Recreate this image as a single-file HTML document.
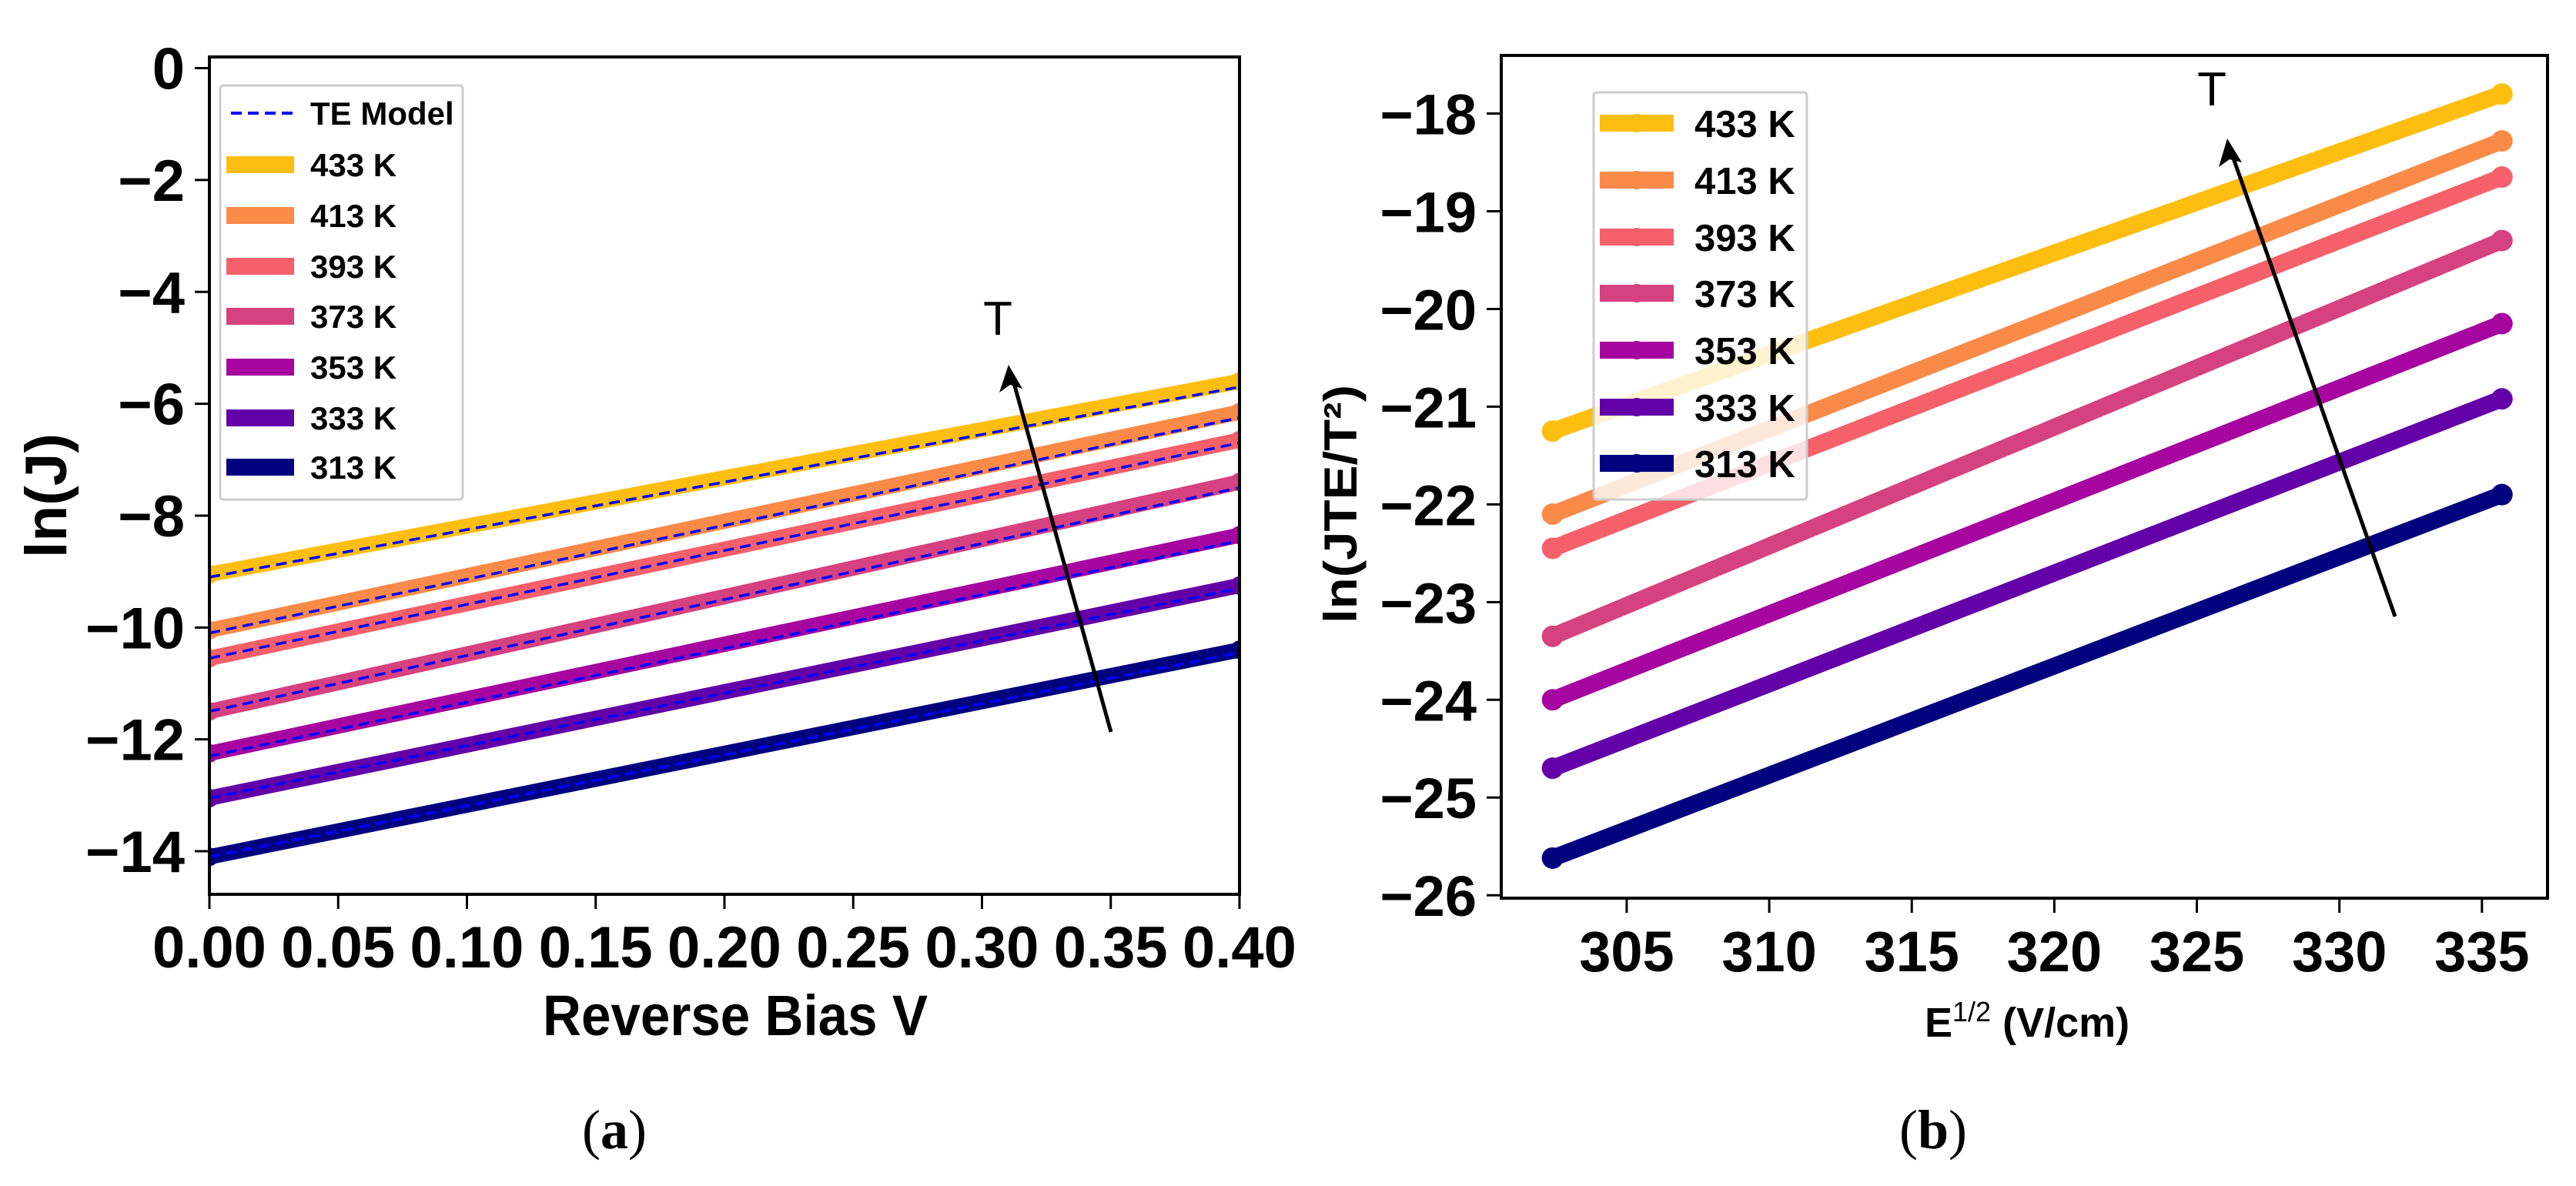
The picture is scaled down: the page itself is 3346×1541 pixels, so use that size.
<!DOCTYPE html>
<html><head><meta charset="utf-8"><style>
html,body{margin:0;padding:0;background:#fff;}
svg{display:block;font-family:"Liberation Sans",sans-serif;}
</style></head><body>
<svg id="fig" width="3346" height="1541" viewBox="0 0 3346 1541" xmlns="http://www.w3.org/2000/svg">
<g id="pa"></g>
<g id="pb"></g>
<text x="798" y="1492" font-family="Liberation Serif, serif" font-size="72" text-anchor="middle">(<tspan font-weight="bold">a</tspan>)</text>
<text x="2511" y="1492" font-family="Liberation Serif, serif" font-size="72" text-anchor="middle">(<tspan font-weight="bold">b</tspan>)</text>
</svg>
<script>
const labels = ["433 K","413 K","393 K","373 K","353 K","333 K","313 K"];
const colors = ["#FEBE10","#FA8A48","#F5606A","#D6417F","#A6069F","#6400A7","#02027F"];
// Panel a: ln(J) at V=0 and V=0.4
const aX = [0.0, 0.4];
const aStart = [-9.05,-10.05,-10.55,-11.5,-12.25,-13.05,-14.1];
const aEnd = [-5.6,-6.15,-6.65,-7.4,-8.35,-9.25,-10.4];
const teStart = [-9.1,-10.1,-10.55,-11.5,-12.3,-13.05,-14.1];
const teEnd = [-5.7,-6.25,-6.7,-7.5,-8.45,-9.3,-10.45];
const aXTicks = [0,0.05,0.10,0.15,0.20,0.25,0.30,0.35,0.40];
const aYTicks = [0,-2,-4,-6,-8,-10,-12,-14];
// Panel b
const bX = [302.4, 335.7];
const bStart = [-21.25,-22.1,-22.45,-23.35,-24.0,-24.7,-25.62];
const bEnd = [-17.8,-18.28,-18.65,-19.3,-20.15,-20.92,-21.9];
const bXTicks = [305,310,315,320,325,330,335];
const bYTicks = [-18,-19,-20,-21,-22,-23,-24,-25,-26];

const NS="http://www.w3.org/2000/svg";
function mk(p,tag,at){const e=document.createElementNS(NS,tag);for(const k in at)e.setAttribute(k,at[k]);p.appendChild(e);return e;}
function minus(v){return v<0?"\u2212"+Math.abs(v):String(v);}

// ---- Panel A ----
const pa=document.getElementById('pa');
const A={l:272,r:1610,t:74,b:1162,x0:0,x1:0.4,y0:-14.77,y1:0.2};
const ax=v=>A.l+(v-A.x0)/(A.x1-A.x0)*(A.r-A.l);
const ay=v=>A.b-(v-A.y0)/(A.y1-A.y0)*(A.b-A.t);
mk(pa,'clipPath',{id:'ca'}).appendChild(Object.assign(document.createElementNS(NS,'rect'),{}));
document.querySelector('#ca rect').setAttribute('x',A.l);document.querySelector('#ca rect').setAttribute('y',A.t);
document.querySelector('#ca rect').setAttribute('width',A.r-A.l);document.querySelector('#ca rect').setAttribute('height',A.b-A.t);
const ga=mk(pa,'g',{'clip-path':'url(#ca)'});
for(let i=labels.length-1;i>=0;i--){
  const l=mk(ga,'line',{x1:ax(aX[0]),y1:ay(aStart[i]),x2:ax(aX[1]),y2:ay(aEnd[i]),stroke:colors[i],'stroke-width':20});
  
  
  [[aX[0],aStart[i]],[aX[1],aEnd[i]]].forEach(p=>{const c=mk(ga,'circle',{cx:ax(p[0]),cy:ay(p[1]),r:12,fill:colors[i]});
    
    });
}
for(let i=0;i<labels.length;i++){
  const d=mk(ga,'line',{x1:ax(aX[0]),y1:ay(teStart[i]),x2:ax(aX[1]),y2:ay(teEnd[i]),stroke:'#0000ff','stroke-width':3.5,'stroke-dasharray':'14 8'});
  
  
}
mk(pa,'rect',{x:A.l,y:A.t,width:A.r-A.l,height:A.b-A.t,fill:'none',stroke:'#000','stroke-width':4});
aXTicks.forEach(v=>{mk(pa,'line',{x1:ax(v),x2:ax(v),y1:A.b,y2:A.b+19,stroke:'#000','stroke-width':3});
  const t=mk(pa,'text',{x:ax(v),y:1257,'font-size':76,'font-weight':'bold','text-anchor':'middle'});t.textContent=v.toFixed(2);
  
  });
aYTicks.forEach(v=>{mk(pa,'line',{x1:A.l-19,x2:A.l,y1:ay(v),y2:ay(v),stroke:'#000','stroke-width':3});
  const t=mk(pa,'text',{x:240,y:ay(v)+27,'font-size':76,'font-weight':'bold','text-anchor':'end'});t.textContent=minus(v);
  
  });
let xt=mk(pa,'text',{x:955,y:1345,'font-size':74,'font-weight':'bold','text-anchor':'middle',textLength:500,lengthAdjust:'spacingAndGlyphs'});xt.textContent='Reverse Bias V';


let yt=mk(pa,'text',{x:0,y:0,'font-size':76,'font-weight':'bold','text-anchor':'middle',transform:'translate(86,644) rotate(-90)',textLength:162,lengthAdjust:'spacingAndGlyphs'});yt.textContent='ln(J)';


// legend a
const la=mk(pa,'g',{});


mk(la,'rect',{x:286,y:111,width:315,height:538,fill:'#fff',stroke:'#ccc','stroke-width':3,rx:4});
const laY=[147,214,280,346,411,477,543,607];
mk(la,'line',{x1:300,x2:380,y1:laY[0],y2:laY[0],stroke:'#0000ff','stroke-width':4,'stroke-dasharray':'14 8'});
let tt=mk(la,'text',{x:403,y:laY[0]+15,'font-size':42,'font-weight':'bold'});tt.textContent='TE Model';
for(let i=0;i<labels.length;i++){const y=laY[i+1];
  mk(la,'line',{x1:294,x2:382,y1:y,y2:y,stroke:colors[i],'stroke-width':22});
  mk(la,'circle',{cx:338,cy:y,r:11,fill:colors[i]});
  const t=mk(la,'text',{x:403,y:y+15,'font-size':42,'font-weight':'bold'});t.textContent=labels[i];
  
  }
mk(pa,'line',{x1:1443,y1:951,x2:1316,y2:494,stroke:'#000','stroke-width':5});
mk(pa,'path',{d:'M1310,474 L1298,510 L1312,500 L1328,505 Z',fill:'#000'});
let Ta=mk(pa,'text',{x:1296,y:435,'font-size':62,'text-anchor':'middle'});Ta.textContent='T';



// ---- Panel B ----
const pb=document.getElementById('pb');
const B={l:1950,r:3309,t:72,b:1167,x0:300.6,x1:337.3,y0:-26.03,y1:-17.405};
const bx=v=>B.l+(v-B.x0)/(B.x1-B.x0)*(B.r-B.l);
const by=v=>B.b-(v-B.y0)/(B.y1-B.y0)*(B.b-B.t);
for(let i=labels.length-1;i>=0;i--){
  const l=mk(pb,'line',{x1:bx(bX[0]),y1:by(bStart[i]),x2:bx(bX[1]),y2:by(bEnd[i]),stroke:colors[i],'stroke-width':22});
  
  
  [[bX[0],bStart[i]],[bX[1],bEnd[i]]].forEach(p=>{const c=mk(pb,'circle',{cx:bx(p[0]),cy:by(p[1]),r:14,fill:colors[i]});
    
    });
}
mk(pb,'rect',{x:B.l,y:B.t,width:B.r-B.l,height:B.b-B.t,fill:'none',stroke:'#000','stroke-width':4});
bXTicks.forEach(v=>{mk(pb,'line',{x1:bx(v),x2:bx(v),y1:B.b,y2:B.b+19,stroke:'#000','stroke-width':3});
  const t=mk(pb,'text',{x:bx(v),y:1262,'font-size':74,'font-weight':'bold','text-anchor':'middle'});t.textContent=v;
  
  });
bYTicks.forEach(v=>{mk(pb,'line',{x1:B.l-19,x2:B.l,y1:by(v),y2:by(v),stroke:'#000','stroke-width':3});
  const t=mk(pb,'text',{x:1918,y:by(v)+27,'font-size':74,'font-weight':'bold','text-anchor':'end'});t.textContent=minus(v);
  
  });
let xb=mk(pb,'text',{x:2500,y:1347,'font-size':54,'font-weight':'bold'});
xb.innerHTML='E<tspan font-size="36" font-weight="normal" dy="-20">1/2</tspan><tspan dy="20"> (V/cm)</tspan>';


let yb=mk(pb,'text',{x:0,y:0,'font-size':60,'font-weight':'bold','text-anchor':'middle',transform:'translate(1762,655) rotate(-90)',textLength:310,lengthAdjust:'spacingAndGlyphs'});yb.textContent='ln(JTE/T\u00b2)';


const lb=mk(pb,'g',{});


mk(lb,'rect',{x:2070,y:120,width:277,height:529,fill:'#fff','fill-opacity':0.8,stroke:'#ccc','stroke-width':3,rx:4});
const lbY=[160,234,308,381,455,529,602];
for(let i=0;i<labels.length;i++){const y=lbY[i];
  mk(lb,'line',{x1:2078,x2:2174,y1:y,y2:y,stroke:colors[i],'stroke-width':22});
  mk(lb,'circle',{cx:2126,cy:y,r:12,fill:colors[i]});
  const t=mk(lb,'text',{x:2201,y:y+18,'font-size':49,'font-weight':'bold'});t.textContent=labels[i];
  
  }
mk(pb,'line',{x1:3111,y1:801,x2:2899,y2:200,stroke:'#000','stroke-width':5});
mk(pb,'path',{d:'M2893,180 L2882,217 L2896,207 L2912,211 Z',fill:'#000'});
let Tb=mk(pb,'text',{x:2873,y:137,'font-size':62,'text-anchor':'middle'});Tb.textContent='T';


</script>
</body></html>
